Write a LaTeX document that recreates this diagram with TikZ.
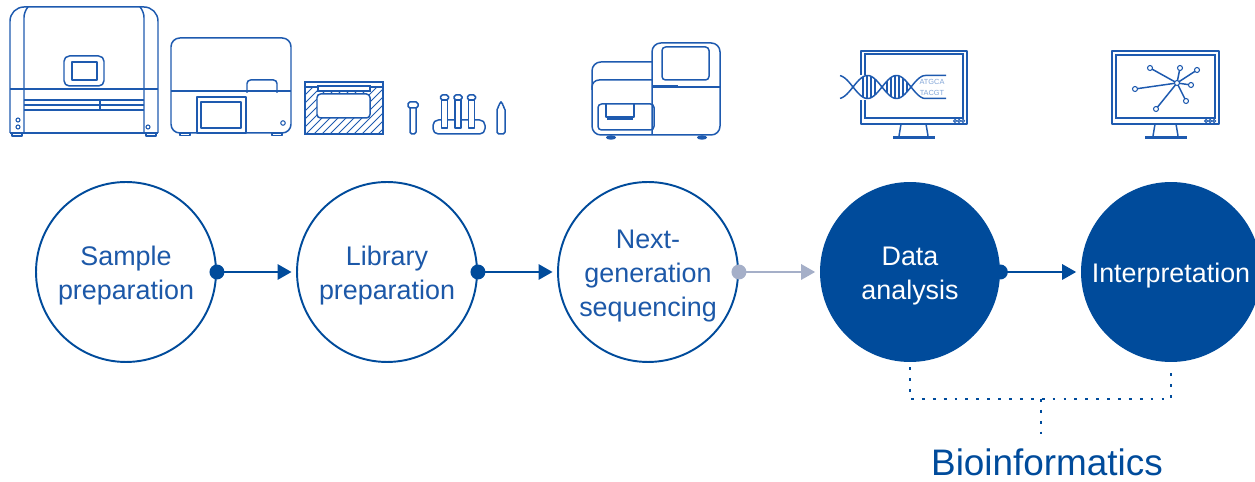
\documentclass[tikz,border=0pt]{standalone}
\usepackage{fontspec}
\setmainfont{Liberation Sans}
\usetikzlibrary{arrows.meta,calc}
\definecolor{navy}{RGB}{0,75,155}
\definecolor{ink}{RGB}{28,88,168}
\definecolor{iconblue}{RGB}{30,90,175}
\definecolor{paleink}{RGB}{130,165,215}
\definecolor{greyflow}{RGB}{165,175,200}
\begin{document}
\begin{tikzpicture}[x=0.02cm,y=-0.02cm,
  stage/.style={circle, minimum size=3.6cm, inner sep=0pt},
  openstage/.style={stage, draw=navy, line width=1.1pt, fill=white},
  solidstage/.style={stage, fill=navy},
  stagetext/.style={align=center, inner sep=0pt, font=\fontsize{15.3}{19.3}\selectfont},
  flow/.style={line width=1.7pt, shorten >=2.5pt, -{Triangle[length=8pt,width=8.5pt]}},
  bracket/.style={draw=navy, line width=1.6pt, dash pattern=on 1.6pt off 4.6pt},
  icon/.style={draw=iconblue, line width=0.85pt, line join=round},
  thin/.style={draw=iconblue, line width=0.6pt},
]
\useasboundingbox (0,0) rectangle (1255,482);

% ---------- workflow stages ----------
\node[openstage]  (c1) at (126,272) {};
\node[openstage]  (c2) at (387,272) {};
\node[openstage]  (c3) at (648,272) {};
\node[solidstage] (c4) at (910,272) {};
\node[solidstage] (c5) at (1171,272) {};
\node[stagetext, text=ink]   (t1) at ($(c1)+(0,4)$) {Sample\\preparation};
\node[stagetext, text=ink]   (t2) at ($(c2)+(0,4)$) {Library\\preparation};
\node[stagetext, text=ink]   (t3) at ($(c3)+(0,4)$) {Next-\\generation\\sequencing};
\node[stagetext, text=white] (t4) at ($(c4)+(0,4)$) {Data\\analysis};
\node[stagetext, text=white] (t5) at ($(c5)+(0,4)$) {Interpretation};

% ---------- connectors ----------
\fill[navy] (c1.east) circle (0.15cm);
\draw[flow, navy] (c1.east) -- (c2.west);
\fill[navy] (c2.east) circle (0.15cm);
\draw[flow, navy] (c2.east) -- (c3.west);
\fill[greyflow] (c3.east) circle (0.15cm);
\draw[flow, greyflow] (c3.east) -- (c4.west);
\fill[navy] (c4.east) circle (0.15cm);
\draw[flow, navy] (c4.east) -- (c5.west);

% ---------- bioinformatics bracket ----------
\node[font=\fontsize{21}{25}\selectfont, text=navy, anchor=base, inner sep=0pt] (bio) at (1047,476) {Bioinformatics};
\coordinate (bj) at (1041,399);
\coordinate (bt) at (1041,441);
\draw[bracket] ($(c4.south)+(0,5)$) -- (c4.south |- bj) -- (c5.south |- bj) -- ($(c5.south)+(0,5)$);
\draw[bracket] (bj) -- (bt);

% ---------- instrument: large automated extractor ----------
\draw[icon, rounded corners=8pt] (10,133) -- (10,7) -- (158,7) -- (158,133);
\draw[icon] (10,133) -- (158,133);
\draw[icon] (12,133) rectangle (22,136);
\draw[icon] (146,133) rectangle (156,136);
\draw[icon, rounded corners=3pt] (24,133) -- (24,12) -- (28,7);
\draw[icon, rounded corners=3pt] (144,133) -- (144,12) -- (140,7);
\draw[icon] (10,89) -- (158,89);
\draw[thin] (24,100) -- (144,100);
\draw[thin] (24,105) -- (144,105);
\draw[thin] (24,110) -- (144,110);
\draw[thin] (100,100) -- (100,110);
\draw[icon, rounded corners=3pt] (64,56) rectangle (104,86);
\draw[icon] (72,62) rectangle (97,80);
\draw[thin] (18,120) circle (0.04cm);
\draw[thin] (18,127) circle (0.04cm);
\draw[thin] (148,127) circle (0.04cm);

% ---------- instrument: benchtop unit ----------
\draw[icon, rounded corners=5pt] (171,38) rectangle (291,133);
\draw[icon] (171,91) -- (291,91);
\draw[draw=iconblue, line width=1.3pt] (190,91) -- (247,91);
\draw[icon, rounded corners=2pt] (247,93) -- (247,80) -- (277,80) -- (277,93);
\draw[icon] (197,97) rectangle (246,133);
\draw[icon] (201,102) rectangle (241,128);
\draw[thin] (283,123) circle (0.045cm);
\draw[icon] (180,133) rectangle (190,135.5);
\draw[icon] (272,133) rectangle (282,135.5);

% ---------- hatched sample block ----------
\begin{scope}
  \clip (305,87) rectangle (383,134);
  \foreach \i in {0,...,18} \draw[iconblue, line width=0.6pt] (260+\i*8,140) -- ++(60,-60);
\end{scope}
\draw[draw=iconblue, line width=1.3pt] (305,82) rectangle (383,134);
\draw[icon] (305,87) -- (383,87);
\draw[thin, fill=white] (318,86) rectangle (370,91);
\draw[icon, fill=white, rounded corners=2pt] (317,94) rectangle (370,118);

% ---------- tubes and rack ----------
\draw[icon, rounded corners=1pt] (410,108) -- (410,134) -- (416,134) -- (416,108);
\draw[icon, rounded corners=1pt] (408,102) rectangle (418,108);
\draw[icon, rounded corners=3pt] (433,134) -- (433,120) -- (485,120) -- (485,134) -- cycle;
\foreach \cx in {444.5,458,471.5} {
  \draw[icon, fill=white] (\cx-3,100) rectangle (\cx+3,128);
  \draw[icon, fill=white, rounded corners=1pt] (\cx-4,95) rectangle (\cx+4,100);
}
\draw[icon, rounded corners=1pt] (497,134) -- (497,108) -- (499.5,106) -- (499.5,102) -- (502.5,102) -- (502.5,106) -- (505,108) -- (505,134) -- cycle;

% ---------- sequencer ----------
\draw[icon, rounded corners=5pt] (652,135) -- (592,135) -- (592,62) -- (652,62);
\draw[icon, rounded corners=4pt] (652,80) -- (592,80) -- (592,90);
\draw[icon, rounded corners=5pt] (652,135) -- (652,43) -- (720,43) -- (720,135) -- (652,135);
\draw[icon, rounded corners=2pt] (662,47) rectangle (709,80);
\draw[icon] (652,87) -- (720,87);
\draw[draw=iconblue, line width=1.6pt] (652,86.5) -- (678,86.5);
\draw[icon, rounded corners=2pt] (598,104) rectangle (654,130);
\draw[icon] (606,104) -- (606,117) -- (634,117) -- (634,104);
\draw[thin] (607,119) -- (633,119);
\fill[iconblue] (611,137.5) ellipse (0.1cm and 0.045cm);
\fill[iconblue] (702,137.5) ellipse (0.1cm and 0.045cm);

% ---------- monitor with DNA ----------
\draw[icon] (861,51) rectangle (967,124);
\draw[thin] (865,54) rectangle (963,118);
\fill[white] (857,75) rectangle (868,100);
\draw[icon] (901,124) -- (899,136);
\draw[icon] (926,124) -- (928,136);
\draw[draw=iconblue, line width=1.4pt] (893,137.5) -- (935,137.5);
\foreach \bx in {955,959,963} \draw[thin] (\bx,121) circle (0.03cm);
\draw[icon] plot[domain=840:925.5, samples=80, smooth] (\x,{87+11.5*sin((\x-853)*180/29)}) -- (946,98.5);
\draw[icon] plot[domain=840:925.5, samples=80, smooth] (\x,{87-11.5*sin((\x-853)*180/29)}) -- (946,75.5);
\foreach \rx in {863,867,871,875,887,891,895,899,903,907}
  \draw[thin] (\rx,{87+11.5*sin((\rx-853)*180/29)}) -- (\rx,{87-11.5*sin((\rx-853)*180/29)});
\node[font=\fontsize{4.2}{4.2}\selectfont, text=paleink, inner sep=0pt] (seqa) at (932,81.5) {ATGCA};
\node[font=\fontsize{4.2}{4.2}\selectfont, text=paleink, inner sep=0pt] (seqb) at (932,92.5) {TACGT};

% ---------- monitor with network ----------
\draw[icon] (1112,51) rectangle (1219,124);
\draw[thin] (1116,55) rectangle (1215,118);
\draw[icon] (1155,124) -- (1153,136);
\draw[icon] (1176,124) -- (1178,136);
\draw[draw=iconblue, line width=1.4pt] (1145,137.5) -- (1187,137.5);
\foreach \bx in {1206,1210,1214} \draw[thin] (\bx,121) circle (0.03cm);
\coordinate (hub) at (1177,83);
\foreach \nx/\ny in {1150/68,1180/68,1197/70,1191/85,1186/101,1156/109,1135/89} {
  \draw[icon] (hub) -- (\nx,\ny);
  \draw[thin, fill=white] (\nx,\ny) circle (0.05cm);
}
\draw[thin, fill=white] (hub) circle (0.05cm);
\end{tikzpicture}
\end{document}
